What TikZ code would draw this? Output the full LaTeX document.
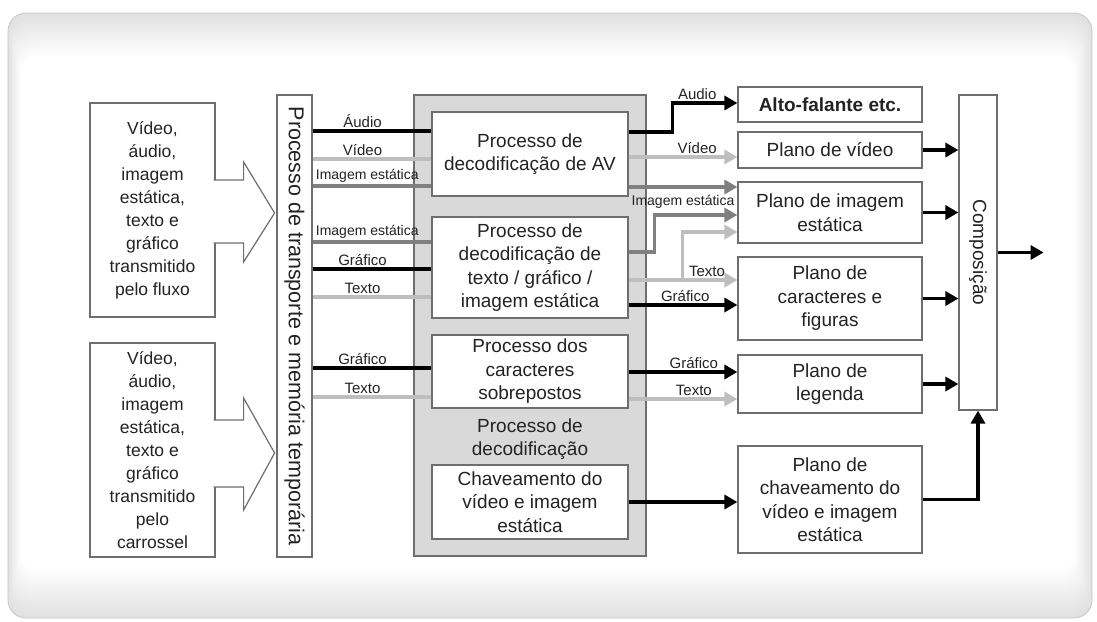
\documentclass[tikz,border=0pt]{standalone}
\usepackage{fontspec}
\setmainfont{Liberation Sans}
\usetikzlibrary{arrows.meta,calc}

\begin{document}
\begin{tikzpicture}[x=1pt,y=-1pt,line join=miter]
  % ----- styles & colors -----
  \definecolor{txtgray}{RGB}{35,35,35}
  \definecolor{linelight}{RGB}{190,190,190}
  \definecolor{linemid}{RGB}{128,128,128}
  \definecolor{panelgray}{RGB}{217,217,217}
  \definecolor{boxedge}{RGB}{110,110,110}
  \tikzset{
    box/.style={draw=boxedge,line width=1.2pt,fill=white,text=txtgray,align=center,inner sep=0pt,font=\fontsize{19}{23.5}\selectfont},
    srcbox/.style={box,minimum width=125pt,minimum height=214pt,font=\fontsize{17.5}{23}\selectfont},
    decbox/.style={box,minimum width=196pt},
    planebox/.style={box,minimum width=184pt},
    lbl/.style={text=txtgray,font=\fontsize{15}{15}\selectfont,inner sep=1.5pt},
    lblsm/.style={lbl,font=\fontsize{14}{14}\selectfont},
    blk/.style={draw=black,line width=3.5pt},
    lgt/.style={draw=linelight,line width=3.5pt},
    midl/.style={draw=linemid,line width=3.5pt},
    arr/.style={-{Triangle[length=13pt,width=14pt]}},
    blockarr/.style={draw=boxedge,line width=1.2pt,fill=white}
  }

  \useasboundingbox (0,0) rectangle (1097,621);

  % ----- background panel -----
  \foreach \i in {0,...,24}{
    \pgfmathsetmacro{\gv}{12*(1-\i/24)}
    \fill[black!\gv,rounded corners=18pt] ({8+0.5*\i},{13+1.8*\i}) rectangle ({1092-0.7*\i},{618-2*\i});
  }
  \draw[black!22,line width=0.8pt,rounded corners=18pt] (8,13) rectangle (1092,618);

  % ----- sources -----
  \node[srcbox] (stream) at (152.5,210) {Vídeo,\\áudio,\\imagem\\estática,\\texto e\\gráfico\\transmitido\\pelo fluxo};
  \node[srcbox] (carousel) at (152.5,450) {Vídeo,\\áudio,\\imagem\\estática,\\texto e\\gráfico\\transmitido\\pelo\\carrossel};
  \node[box,minimum width=35pt,minimum height=462pt,font=\fontsize{21.5}{24}\selectfont] (trans) at (294.5,326)
    {\rotatebox{-90}{Processo de transporte e memória temporária}};

  % block arrows into the transport bar
  \filldraw[blockarr] ($(stream.east)+(-2,-30)$) -- ++(30,0) -- ++(0,-18) -- ++(31,51) -- ++(-31,49) -- ++(0,-19) -- ++(-30,0);
  \filldraw[blockarr] ($(carousel.east)+(-2,-30)$) -- ++(30,0) -- ++(0,-22) -- ++(31,55) -- ++(-31,57) -- ++(0,-23) -- ++(-30,0);

  % ----- decoding -----
  \node[draw=boxedge,line width=1.2pt,fill=panelgray,minimum width=232pt,minimum height=461pt,inner sep=0pt] (decpanel) at (530,325.5) {};
  \node[decbox,minimum height=84pt] (av) at (530,154) {Processo de\\decodificação de AV};
  \node[decbox,minimum height=101pt] (txt) at (530,267.5) {Processo de\\decodificação de\\texto / gráfico /\\imagem estática};
  \node[decbox,minimum height=73pt] (sup) at (530,371.5) {Processo dos\\caracteres\\sobrepostos};
  \node[text=txtgray,align=center,font=\fontsize{19}{23}\selectfont] (declbl) at (530,439) {Processo de\\decodificação};
  \node[decbox,minimum height=74pt] (chav) at (530,502) {Chaveamento do\\vídeo e imagem\\estática};

  % ----- planes -----
  \node[planebox,minimum height=35pt,font=\fontsize{19}{23}\selectfont\bfseries] (spk) at (830,104.5) {Alto-falante etc.};
  \node[planebox,minimum height=36pt] (pvid) at (830,150) {Plano de vídeo};
  \node[planebox,minimum height=61pt] (pimg) at (830,212.5) {Plano de imagem\\estática};
  \node[planebox,minimum height=83pt] (pcar) at (830,298.5) {Plano de\\caracteres e\\figuras};
  \node[planebox,minimum height=58pt] (pleg) at (830,384) {Plano de\\legenda};
  \node[planebox,minimum height=107pt] (pchav) at (830,499.5) {Plano de\\chaveamento do\\vídeo e imagem\\estática};
  \node[box,minimum width=38pt,minimum height=315pt] (comp) at (978,252.5) {\rotatebox{-90}{Composição}};

  % ----- transport -> decoders -----
  \draw[blk] (trans.east |- 0,131) -- node[lbl,above,pos=0.42] {Áudio} (av.west |- 0,131);
  \draw[lgt] (trans.east |- 0,159) -- node[lbl,above,pos=0.42] {Vídeo} (av.west |- 0,159);
  \draw[midl] (trans.east |- 0,186) -- node[lblsm,above,pos=0.46] {Imagem estática} (av.west |- 0,186);
  \draw[midl] (trans.east |- 0,242) -- node[lblsm,above,pos=0.46] {Imagem estática} (txt.west |- 0,242);
  \draw[blk] (trans.east |- 0,269) -- node[lbl,above,pos=0.42] {Gráfico} (txt.west |- 0,269);
  \draw[lgt] (trans.east |- 0,297) -- node[lbl,above,pos=0.42] {Texto} (txt.west |- 0,297);
  \draw[blk] (trans.east |- 0,368) -- node[lbl,above,pos=0.42] {Gráfico} (sup.west |- 0,368);
  \draw[lgt] (trans.east |- 0,397) -- node[lbl,above,pos=0.42] {Texto} (sup.west |- 0,397);

  % ----- decoders -> planes -----
  \draw[blk,arr] (av.east |- 0,132) -- ++(44,0) |- node[lbl,above,pos=0.69] {Audio} (spk.west |- 0,103);
  \draw[lgt,arr] (av.east |- 0,157) -- node[lbl,above,pos=0.63] {Vídeo} (pvid.west |- 0,157);
  \draw[midl,arr] (av.east |- 0,187) -- node[lblsm,below=5pt,pos=0.5] {Imagem estática} (pimg.west |- 0,187);
  \draw[midl,arr] (txt.east |- 0,252) -- ++(26,0) |- (pimg.west |- 0,215);
  \draw[lgt,arr] (txt.east |- 0,280) -- ++(54,0) |- (pimg.west |- 0,232);
  \draw[lgt,arr] (txt.east |- 0,280) -- node[lbl,above,pos=0.72] {Texto} (pcar.west |- 0,280);
  \draw[blk,arr] (txt.east |- 0,305) -- node[lbl,above,pos=0.52] {Gráfico} (pcar.west |- 0,305);
  \draw[blk,arr] (sup.east |- 0,372) -- node[lbl,above,pos=0.6] {Gráfico} (pleg.west |- 0,372);
  \draw[lgt,arr] (sup.east |- 0,399) -- node[lbl,above,pos=0.6] {Texto} (pleg.west |- 0,399);
  \draw[blk,arr] (chav.east |- 0,502) -- (pchav.west |- 0,502);

  % ----- planes -> composition -----
  \foreach \p in {pvid,pimg,pcar,pleg}{
    \draw[blk,arr] (\p.east) -- (\p.east -| comp.west);
  }
  \draw[blk,arr] (pchav.east) -| (comp.south);
  \coordinate (out) at ($(comp.east)+(46,0)$);
  \draw[blk,arr] (comp.east) -- (out);

\end{tikzpicture}
\end{document}
